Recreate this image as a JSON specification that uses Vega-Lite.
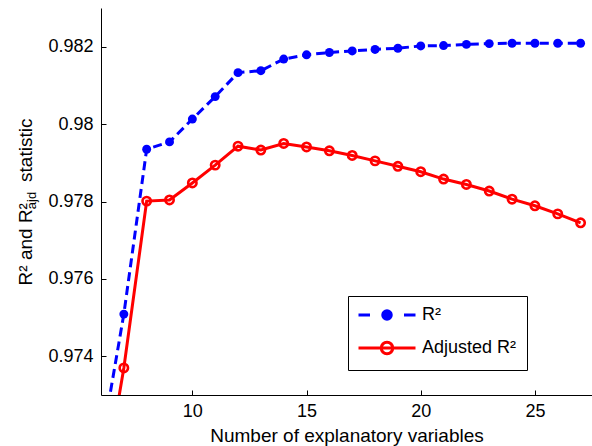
{
  "$schema": "https://vega.github.io/schema/vega-lite/v6.json",
  "width": 491,
  "height": 387,
  "autosize": "none",
  "padding": {"left": 101, "top": 8, "right": 0, "bottom": 51},
  "background": "white",
  "title": {"text": "ajd", "orient": "left", "anchor": "middle", "fontSize": 13, "fontWeight": "normal", "font": "Liberation Sans", "color": "black", "offset": 0, "dx": 1, "dy": 22},
  "config": {
    "view": {"stroke": null},
    "font": "Liberation Sans",
    "axis": {
      "grid": false,
      "domainColor": "black",
      "tickColor": "black",
      "labelColor": "black",
      "titleColor": "black",
      "labelFont": "Liberation Sans",
      "titleFont": "Liberation Sans",
      "labelFontSize": 18,
      "titleFontSize": 19,
      "titleFontWeight": "normal",
      "tickSize": -5,
      "domainWidth": 1,
      "tickWidth": 1
    },
    "legend": {
      "labelFont": "Liberation Sans",
      "labelFontSize": 18,
      "labelColor": "black"
    }
  },
  "data": {
    "values": [
      {"n": 6, "stat": "R²", "value": 0.97166},
      {"n": 7, "stat": "R²", "value": 0.97509},
      {"n": 8, "stat": "R²", "value": 0.97935},
      {"n": 9, "stat": "R²", "value": 0.97954},
      {"n": 10, "stat": "R²", "value": 0.98013},
      {"n": 11, "stat": "R²", "value": 0.98071},
      {"n": 12, "stat": "R²", "value": 0.98133},
      {"n": 13, "stat": "R²", "value": 0.98138},
      {"n": 14, "stat": "R²", "value": 0.98168},
      {"n": 15, "stat": "R²", "value": 0.98179},
      {"n": 16, "stat": "R²", "value": 0.98185},
      {"n": 17, "stat": "R²", "value": 0.98189},
      {"n": 18, "stat": "R²", "value": 0.98193},
      {"n": 19, "stat": "R²", "value": 0.98196},
      {"n": 20, "stat": "R²", "value": 0.98202},
      {"n": 21, "stat": "R²", "value": 0.98203},
      {"n": 22, "stat": "R²", "value": 0.98206},
      {"n": 23, "stat": "R²", "value": 0.98208},
      {"n": 24, "stat": "R²", "value": 0.98209},
      {"n": 25, "stat": "R²", "value": 0.98209},
      {"n": 26, "stat": "R²", "value": 0.98209},
      {"n": 27, "stat": "R²", "value": 0.98209},
      {"n": 6, "stat": "Adjusted R²", "value": 0.9702},
      {"n": 7, "stat": "Adjusted R²", "value": 0.97370},
      {"n": 8, "stat": "Adjusted R²", "value": 0.97801},
      {"n": 9, "stat": "Adjusted R²", "value": 0.97804},
      {"n": 10, "stat": "Adjusted R²", "value": 0.97848},
      {"n": 11, "stat": "Adjusted R²", "value": 0.97894},
      {"n": 12, "stat": "Adjusted R²", "value": 0.97943},
      {"n": 13, "stat": "Adjusted R²", "value": 0.97933},
      {"n": 14, "stat": "Adjusted R²", "value": 0.97950},
      {"n": 15, "stat": "Adjusted R²", "value": 0.97941},
      {"n": 16, "stat": "Adjusted R²", "value": 0.97931},
      {"n": 17, "stat": "Adjusted R²", "value": 0.97919},
      {"n": 18, "stat": "Adjusted R²", "value": 0.97905},
      {"n": 19, "stat": "Adjusted R²", "value": 0.97891},
      {"n": 20, "stat": "Adjusted R²", "value": 0.97877},
      {"n": 21, "stat": "Adjusted R²", "value": 0.97858},
      {"n": 22, "stat": "Adjusted R²", "value": 0.97844},
      {"n": 23, "stat": "Adjusted R²", "value": 0.97827},
      {"n": 24, "stat": "Adjusted R²", "value": 0.97806},
      {"n": 25, "stat": "Adjusted R²", "value": 0.97789},
      {"n": 26, "stat": "Adjusted R²", "value": 0.97768},
      {"n": 27, "stat": "Adjusted R²", "value": 0.97745}
    ]
  },
  "encoding": {
    "x": {
      "field": "n", "type": "quantitative",
      "scale": {"domain": [6, 27.5], "nice": false, "zero": false},
      "axis": {"values": [10, 15, 20, 25], "title": "Number of explanatory variables", "labelPadding": 12, "titlePadding": 6}
    },
    "y": {
      "field": "value", "type": "quantitative",
      "scale": {"domain": [0.973, 0.983], "nice": false, "zero": false},
      "axis": {"values": [0.974, 0.976, 0.978, 0.98, 0.982], "format": ".3~f", "title": "R² and R²\u00a0\u00a0\u00a0\u00a0statistic", "labelPadding": 13, "titlePadding": 12}
    },
    "color": {
      "field": "stat", "type": "nominal",
      "scale": {"domain": ["R²", "Adjusted R²"], "range": ["#0000ff", "#ff0000"]},
      "legend": {
        "title": null,
        "orient": "none",
        "legendX": 247,
        "legendY": 288,
        "padding": 10,
        "strokeColor": "black",
        "fillColor": "white",
        "cornerRadius": 0,
        "symbolSize": 100,
        "symbolOffset": 20,
        "labelOffset": 26,
        "rowPadding": 10,
        "encode": {
          "symbols": {
            "update": {
              "shape": {"signal": "datum.value === 'R²' ? 'M-5.7,0H-3.4M3.4,0H5.7M-0.85,0A0.85,0.85,0,1,0,0.85,0A0.85,0.85,0,1,0,-0.85,0Z' : 'M-5.7,0H5.7M-1.15,0A1.15,1.15,0,1,0,1.15,0A1.15,1.15,0,1,0,-1.15,0Z'"},
              "fill": {"signal": "datum.value === 'R²' ? '#0000ff' : 'transparent'"},
              "fillOpacity": {"signal": "datum.value === 'R²' ? 1 : 0"},
              "stroke": {"signal": "datum.value === 'R²' ? '#0000ff' : '#ff0000'"},
              "strokeWidth": {"value": 3},
              "opacity": {"value": 1},
              "strokeOpacity": {"value": 1}
            }
          }
        }
      }
    }
  },
  "layer": [
    {
      "transform": [{"filter": "datum.stat === 'R²'"}],
      "mark": {"type": "line", "strokeWidth": 3, "strokeDash": [9, 5], "clip": true}
    },
    {
      "transform": [{"filter": "datum.stat === 'R²'"}],
      "mark": {"type": "point", "shape": "circle", "filled": true, "size": 80, "opacity": 1, "clip": true}
    },
    {
      "transform": [{"filter": "datum.stat === 'Adjusted R²'"}],
      "mark": {"type": "line", "strokeWidth": 3, "clip": true}
    },
    {
      "transform": [{"filter": "datum.stat === 'Adjusted R²'"}],
      "mark": {"type": "point", "shape": "circle", "filled": false, "size": 70, "strokeWidth": 2.6, "opacity": 1, "clip": true}
    }
  ]
}
